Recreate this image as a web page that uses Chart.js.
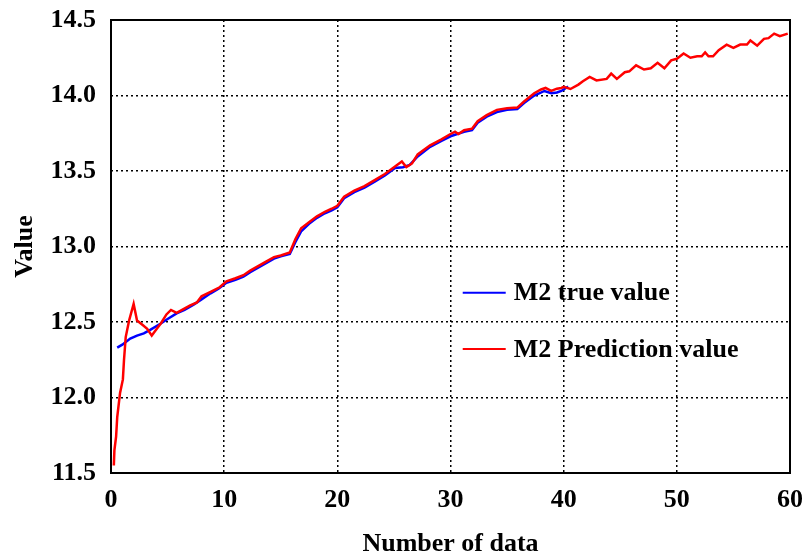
<!DOCTYPE html>
<html lang="en">
<head>
  <meta charset="UTF-8">
  <title>M2 true value vs prediction</title>
  <script src="https://cdn.jsdelivr.net/npm/chart.js"></script>
  <style>
    body { margin: 0; background: #fff; }
    #wrap { width: 805px; height: 558px; }
  </style>
</head>
<body>
  <div id="wrap"><canvas id="m2Chart" width="805" height="558"></canvas></div>
  <script>
    // M2 true value (runs to ~40)
    const trueX = [0.55, 1.0, 1.7, 2.3, 2.9, 3.5, 4.4, 5.0, 5.8, 6.5, 7.3, 8.0, 8.8, 9.5, 10.2, 11.0, 11.7, 12.3, 13.0, 13.7,
      14.4, 15.0, 15.8, 16.3, 16.8, 17.5, 18.2, 18.9, 19.5, 20.0, 20.6, 21.5, 22.4, 23.3, 24.2, 25.1, 25.8, 26.4, 27.1, 28.2,
      29.2, 30.0, 30.6, 31.2, 31.9, 32.4, 33.2, 34.1, 35.0, 35.9, 36.5, 37.4, 38.3, 38.9, 39.4, 39.8, 40.4];
    const trueY = [12.33, 12.35, 12.39, 12.41, 12.425, 12.45, 12.49, 12.52, 12.557, 12.58, 12.615, 12.65, 12.69, 12.72, 12.76, 12.78, 12.80, 12.83, 12.86, 12.89,
      12.92, 12.935, 12.95, 13.03, 13.10, 13.15, 13.19, 13.22, 13.24, 13.26, 13.32, 13.36, 13.39, 13.43, 13.47, 13.52, 13.525, 13.54, 13.596, 13.66,
      13.70, 13.73, 13.745, 13.76, 13.77, 13.82, 13.86, 13.89, 13.905, 13.91, 13.95, 14.00, 14.03, 14.015, 14.02, 14.03, 14.06];

    // M2 prediction value (runs to 60)
    const predX = [0.25, 0.3, 0.45, 0.55, 0.8, 1.05, 1.15, 1.3, 1.6, 2.0, 2.3, 2.8, 3.2, 3.6, 4.0, 4.4, 4.9, 5.3, 5.8, 6.4,
      7.0, 7.6, 8.0, 8.8, 9.6, 10.2, 11.0, 11.7, 12.3, 13.0, 13.7, 14.4, 15.0, 15.8, 16.3, 16.8, 17.5, 18.2, 18.9, 19.5,
      20.0, 20.6, 21.5, 22.4, 23.3, 24.2, 25.1, 25.7, 26.1, 26.6, 27.1, 28.2, 29.2, 30.0, 30.4, 30.7, 31.2, 31.9, 32.4, 33.2,
      34.1, 35.0, 35.9, 36.5, 37.4, 38.0, 38.4, 38.9, 39.4, 39.8, 40.0, 40.6, 41.3, 41.7, 42.3, 42.9, 43.8, 44.2, 44.7, 45.4,
      45.8, 46.4, 47.1, 47.7, 48.3, 48.9, 49.5, 50.0, 50.6, 51.2, 51.8, 52.2, 52.5, 52.8, 53.2, 53.7, 54.4, 55.0, 55.6, 56.2,
      56.5, 57.1, 57.7, 58.1, 58.6, 59.1, 59.8];
    const predY = [11.55, 11.65, 11.74, 11.87, 12.03, 12.12, 12.25, 12.40, 12.51, 12.62, 12.51, 12.48, 12.455, 12.41, 12.45, 12.49, 12.55, 12.58, 12.56, 12.585,
      12.61, 12.63, 12.67, 12.70, 12.73, 12.77, 12.79, 12.81, 12.84, 12.87, 12.90, 12.93, 12.94, 12.96, 13.05, 13.12, 13.16, 13.20, 13.23, 13.25,
      13.27, 13.33, 13.37, 13.40, 13.44, 13.48, 13.53, 13.563, 13.526, 13.55, 13.61, 13.67, 13.71, 13.745, 13.76, 13.745, 13.77, 13.78, 13.83, 13.87,
      13.905, 13.915, 13.92, 13.96, 14.015, 14.04, 14.05, 14.03, 14.045, 14.05, 14.057, 14.043, 14.072, 14.094, 14.123, 14.10, 14.11, 14.145, 14.11, 14.154,
      14.16, 14.20, 14.172, 14.18, 14.216, 14.18, 14.233, 14.243, 14.278, 14.25, 14.26, 14.26, 14.286, 14.26, 14.26, 14.30, 14.337, 14.315, 14.337, 14.337,
      14.364, 14.33, 14.375, 14.38, 14.41, 14.393, 14.41];

    const xTicks = [0, 10, 20, 30, 40, 50, 60];
    const yTicks = [11.5, 12.0, 12.5, 13.0, 13.5, 14.0, 14.5];
    const seriesNames = ['M2 true value', 'M2 Prediction value'];
    const seriesColors = ['#0000ff', '#ff0000'];

    const serif = "'Times New Roman', 'Liberation Serif', serif";
    const toPoints = (xs, ys) => xs.map((x, i) => ({ x: x, y: ys[i] }));

    // frame round the plot area + legend inside it
    const framePlugin = {
      id: 'frame',
      afterDraw(chart) {
        const { ctx, chartArea: a } = chart;
        ctx.save();
        ctx.strokeStyle = '#000';
        ctx.lineWidth = 2;
        ctx.strokeRect(a.left, a.top, a.right - a.left, a.bottom - a.top);

        // legend
        const w = a.right - a.left, h = a.bottom - a.top;
        const lx = a.left + w * 0.518;
        const rows = [a.top + h * 0.602, a.top + h * 0.726];
        ctx.font = 'bold 26px ' + serif;
        ctx.textBaseline = 'middle';
        ctx.fillStyle = '#000';
        seriesNames.forEach((name, i) => {
          ctx.strokeStyle = seriesColors[i];
          ctx.lineWidth = 2;
          ctx.beginPath();
          ctx.moveTo(lx, rows[i]);
          ctx.lineTo(lx + 43, rows[i]);
          ctx.stroke();
          ctx.fillText(name, lx + 51, rows[i] + 1);
        });
        ctx.restore();
      }
    };

    new Chart(document.getElementById('m2Chart'), {
      type: 'line',
      data: {
        datasets: [{
          label: seriesNames[1],
          data: toPoints(predX, predY),
          borderColor: seriesColors[1],
          borderWidth: 2.5,
          pointRadius: 0,
          tension: 0
        }, {
          label: seriesNames[0],
          data: toPoints(trueX, trueY),
          borderColor: seriesColors[0],
          borderWidth: 2.5,
          pointRadius: 0,
          tension: 0
        }]
      },
      options: {
        responsive: false,
        animation: false,
        devicePixelRatio: 1,
        layout: { padding: { top: 20, right: 15, left: 0, bottom: 0 } },
        plugins: { legend: { display: false }, tooltip: { enabled: false } },
        scales: {
          x: {
            type: 'linear',
            min: 0, max: 60,
            afterBuildTicks: s => { s.ticks = xTicks.map(v => ({ value: v })); },
            afterFit: s => { s.height = 85; s.paddingLeft = 0; s.paddingRight = 0; },
            grid: { color: '#000', lineWidth: 1.5, drawTicks: false },
            border: { display: false, dash: [2, 3] },
            ticks: { color: '#000', padding: 12, maxRotation: 0, font: { family: serif, size: 26, weight: 'bold' } },
            title: { display: true, text: 'Number of data', color: '#000', padding: { top: 0, bottom: -2 },
                     font: { family: serif, size: 26, weight: 'bold' } }
          },
          y: {
            min: 11.5, max: 14.5,
            afterBuildTicks: s => { s.ticks = yTicks.map(v => ({ value: v })); },
            afterFit: s => { s.width = 111; s.paddingTop = 0; s.paddingBottom = 0; },
            grid: { color: '#000', lineWidth: 1.5, drawTicks: false },
            border: { display: false, dash: [2, 3] },
            ticks: { color: '#000', padding: 15, callback: v => v.toFixed(1),
                     font: { family: serif, size: 26, weight: 'bold' } },
            title: { display: true, text: 'Value', color: '#000', padding: { top: 10, bottom: 0 },
                     font: { family: serif, size: 26, weight: 'bold' } }
          }
        }
      },
      plugins: [framePlugin]
    });
  </script>
</body>
</html>
